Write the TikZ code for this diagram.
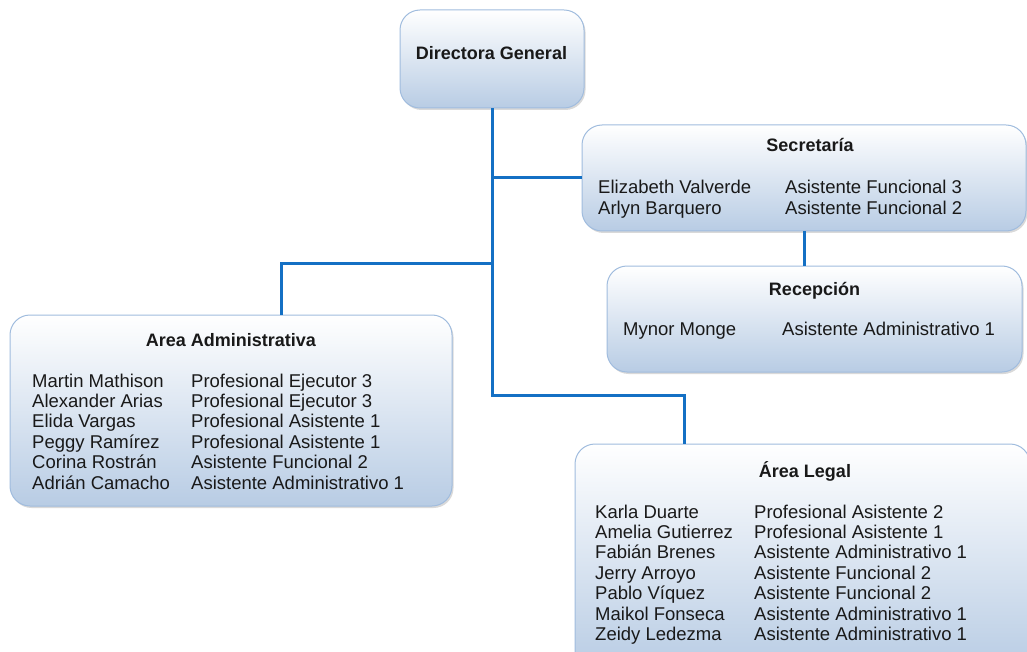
\documentclass[tikz,border=0pt]{standalone}
\usepackage{fontspec}
\setmainfont{Liberation Sans}
\usetikzlibrary{shadows}
\definecolor{fondo}{RGB}{184,204,228}
\definecolor{borde}{RGB}{160,188,222}
\definecolor{linea}{RGB}{20,112,196}
\newcommand{\filas}{\fontsize{18.5}{20.4}\selectfont}

\begin{document}
\begin{tikzpicture}[x=1pt, y=-1pt]
\tikzset{caja/.style={draw=borde, line width=1pt, rounded corners=20pt, top color=white, bottom color=fondo,
    drop shadow={opacity=0.3, shadow xshift=1.5pt, shadow yshift=-2pt}},
  titulo/.style={font=\fontsize{18}{20}\selectfont\bfseries, inner sep=0pt, anchor=base, text=black!90},
  lista/.style={font=\filas, inner sep=0pt, anchor=base west, text=black!90},
  enlace/.style={draw=linea, line width=3pt}}
\clip (0, 0) rectangle (1027, 652);
\useasboundingbox (0, 0) rectangle (1027, 652);
% cajas
\node[caja, minimum width=184pt, minimum height=98pt] (dir) at (492, 59) {};
\node[caja, minimum width=444pt, minimum height=106pt] (sec) at (804, 178) {};
\node[caja, minimum width=415pt, minimum height=106pt] (rec) at (814.5, 319) {};
\node[caja, minimum width=442pt, minimum height=191pt] (adm) at (231, 410.5) {};
\node[caja, minimum width=455pt, minimum height=226pt] (leg) at (802.5, 557) {};
% titulos
\node[titulo] (tdir) at (491.5, 60) {Directora General};
\node[titulo] (tsec) at (810, 152) {Secretaría};
\node[titulo] (trec) at (814.5, 295) {Recepción};
\node[titulo] (tadm) at (231, 346) {Area Administrativa};
\node[titulo] (tleg) at (805, 477) {Área Legal};
% personal
\node[lista] (psec) at (598, 194) {\begin{tabular}[t]{@{}p{187pt}@{}l@{}}
Elizabeth Valverde & Asistente Funcional 3\\[0.6pt]
Arlyn Barquero & Asistente Funcional 2
\end{tabular}};
\node[lista] (prec) at (623, 335) {\begin{tabular}[t]{@{}p{159pt}@{}l@{}}
Mynor Monge & Asistente Administrativo 1
\end{tabular}};
\node[lista] (padm) at (32, 387) {\begin{tabular}[t]{@{}p{159pt}@{}l@{}}
Martin Mathison & Profesional Ejecutor 3\\
Alexander Arias & Profesional Ejecutor 3\\
Elida Vargas & Profesional Asistente 1\\
Peggy Ramírez & Profesional Asistente 1\\
Corina Rostrán & Asistente Funcional 2\\
Adrián Camacho & Asistente Administrativo 1
\end{tabular}};
\node[lista] (pleg) at (595, 518) {\begin{tabular}[t]{@{}p{159pt}@{}l@{}}
Karla Duarte & Profesional Asistente 2\\
Amelia Gutierrez & Profesional Asistente 1\\
Fabián Brenes & Asistente Administrativo 1\\
Jerry Arroyo & Asistente Funcional 2\\
Pablo Víquez & Asistente Funcional 2\\
Maikol Fonseca & Asistente Administrativo 1\\
Zeidy Ledezma & Asistente Administrativo 1
\end{tabular}};
% enlaces
\coordinate (c1) at (492, 263);
\coordinate (c2) at (492, 395);
\draw[enlace] (dir.south) -- (c2) -| ([xshift=-118.5pt]leg.north);
\draw[enlace] (dir.south) |- (sec.west);
\draw[enlace] (c1) -| ([xshift=50pt]adm.north);
\draw[enlace] (sec.south) -- (sec.south |- rec.north);
\end{tikzpicture}
\end{document}
